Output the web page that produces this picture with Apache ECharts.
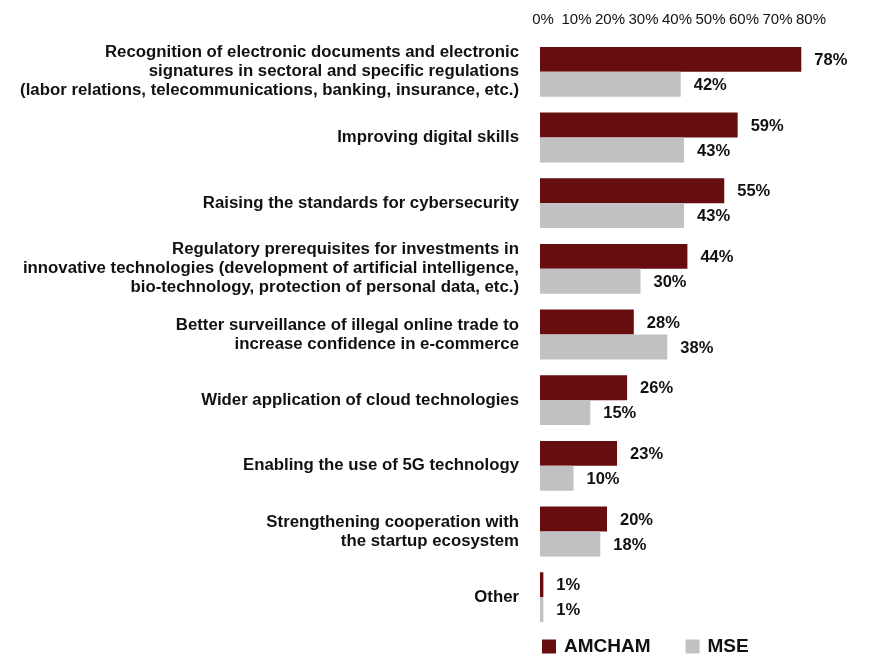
<!DOCTYPE html>
<html>
<head>
<meta charset="utf-8">
<script src="https://cdn.jsdelivr.net/npm/echarts@6/dist/echarts.min.js"></script>
<style>
  html, body { margin: 0; padding: 0; background: #ffffff; }
  #chart { width: 874px; height: 658px; }
</style>
</head>
<body>
<div id="chart"></div>
<script>
// Survey priorities, share of respondents (%)
const categories = [
  'Recognition of electronic documents and electronic\nsignatures in sectoral and specific regulations\n(labor relations, telecommunications, banking, insurance, etc.)',
  'Improving digital skills',
  'Raising the standards for cybersecurity',
  'Regulatory prerequisites for investments in\ninnovative technologies (development of artificial intelligence,\nbio-technology, protection of personal data, etc.)',
  'Better surveillance of illegal online trade to\nincrease confidence in e-commerce',
  'Wider application of cloud technologies',
  'Enabling the use of 5G technology',
  'Strengthening cooperation with\nthe startup ecosystem',
  'Other'
];
const amchamValues = [78, 59, 55, 44, 28, 26, 23, 20, 1];
const mseValues = [42, 43, 43, 30, 38, 15, 10, 18, 1];
const seriesNames = ['AMCHAM', 'MSE'];

const FONT = 'Liberation Sans, Arial, sans-serif';

const chart = echarts.init(document.getElementById('chart'), null, { renderer: 'canvas' });

const valueLabel = {
  show: true,
  position: 'right',
  distance: 13,
  offset: [0, 1],
  formatter: '{c}%',
  fontFamily: FONT,
  fontWeight: 'bold',
  fontSize: 16.5,
  color: '#111111'
};

chart.setOption({
  animation: false,
  backgroundColor: '#ffffff',
  grid: { left: 540, right: 66, top: 39, bottom: 28, containLabel: false },
  xAxis: {
    type: 'value',
    position: 'top',
    min: 0,
    max: 80,
    interval: 10,
    axisLine: { show: false },
    axisTick: { show: false },
    splitLine: { show: false },
    axisLabel: {
      formatter: '{value}%',
      margin: 12,
      padding: [0, 0, 0, 6],
      fontFamily: FONT,
      fontSize: 15,
      color: '#111111'
    }
  },
  yAxis: {
    type: 'category',
    inverse: true,
    data: categories,
    axisLine: { show: false },
    axisTick: { show: false },
    axisLabel: {
      margin: 21,
      align: 'right',
      lineHeight: 19,
      padding: [3, 0, 0, 0],
      fontFamily: FONT,
      fontWeight: 'bold',
      fontSize: 16.8,
      color: '#111111'
    }
  },
  legend: {
    left: 537,
    bottom: -3,
    itemWidth: 14,
    itemHeight: 14,
    itemGap: 35,
    icon: 'rect',
    textStyle: {
      fontFamily: FONT,
      fontWeight: 'bold',
      fontSize: 19,
      color: '#111111',
      padding: [0, 0, 0, 3]
    },
    data: seriesNames
  },
  series: [
    {
      name: seriesNames[0],
      type: 'bar',
      data: amchamValues,
      barGap: '0%',
      barCategoryGap: '24%',
      itemStyle: { color: '#650d0f' },
      label: valueLabel
    },
    {
      name: seriesNames[1],
      type: 'bar',
      data: mseValues,
      itemStyle: { color: '#c1c1c3' },
      label: valueLabel
    }
  ]
});
</script>
</body>
</html>
